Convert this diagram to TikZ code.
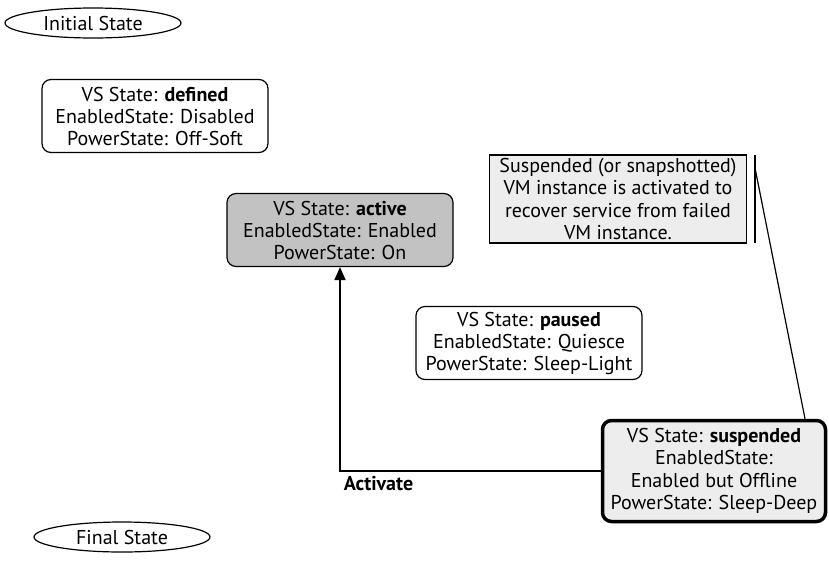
\documentclass[tikz,border=0pt]{standalone}
\usepackage{fontspec}
\setmainfont{PT Sans}
\usetikzlibrary{shapes.geometric, arrows.meta}

\tikzset{
    endstate/.style={draw, ellipse, line width=1.2pt, minimum width=176pt,
        minimum height=30pt, inner sep=0pt, font=\fontsize{20}{22}\selectfont},
    vsstate/.style={draw, rounded corners=9pt, line width=1.2pt, align=center,
        minimum width=226pt, minimum height=73pt, inner sep=1pt,
        font=\fontsize{20}{22}\selectfont},
    notebox/.style={draw, fill=black!7, line width=1.2pt, align=center,
        minimum width=257pt, minimum height=88pt, inner sep=1pt,
        font=\fontsize{20}{22.5}\selectfont}
}

\begin{document}
\begin{tikzpicture}[x=1pt, y=-1pt]
            % 1. Keret
            \useasboundingbox (0,0) rectangle (829,563);

            % 2. Kezdo- es vegallapot
            \node[endstate] (init) at (93,23) {Initial State};
            \node[endstate] (final) at (122,537) {Final State};

            % 3. VS allapotok
            \node[vsstate] (defined) at (155,116)
                {VS State: \textbf{defined}\\EnabledState: Disabled\\PowerState: Off-Soft};
            \node[vsstate, fill=black!24] (active) at (340,230)
                {VS State: \textbf{active}\\EnabledState: Enabled\\PowerState: On};
            \node[vsstate] (paused) at (529,343)
                {VS State: \textbf{paused}\\EnabledState: Quiesce\\PowerState: Sleep-Light};
            \node[
                vsstate,
                fill=black!7,
                line width=3.5pt,
                minimum width=223pt,
                minimum height=101pt,
                font=\fontsize{20}{22.5}\selectfont
            ] (suspended) at (714,471)
                {VS State: \textbf{suspended}\\EnabledState:\\Enabled but Offline\\PowerState: Sleep-Deep};

            % 4. Megjegyzes
            \node[notebox] (note) at (618,199)
                {Suspended (or snapshotted)\\VM instance is activated to\\recover service from failed\\VM instance.};
            \coordinate (bar-top) at (755,155);
            \coordinate (bar-bot) at (755,243);
            \coordinate (bar-pin) at (755,168);
            \draw[line width=1.2pt] (bar-top) -- (bar-bot);
            \draw[line width=1.2pt] (bar-pin) -- ([xshift=91pt]suspended.north);

            % 5. Atmenet
            \draw[line width=1.8pt, -{Triangle[length=13pt, width=11pt]}]
                (suspended.west) -| (active.south)
                node[pos=0.5, below right, font=\fontsize{20}{22}\selectfont\bfseries,
                    inner sep=3pt, yshift=-1pt] (activate) {Activate};
        \end{tikzpicture}
\end{document}
